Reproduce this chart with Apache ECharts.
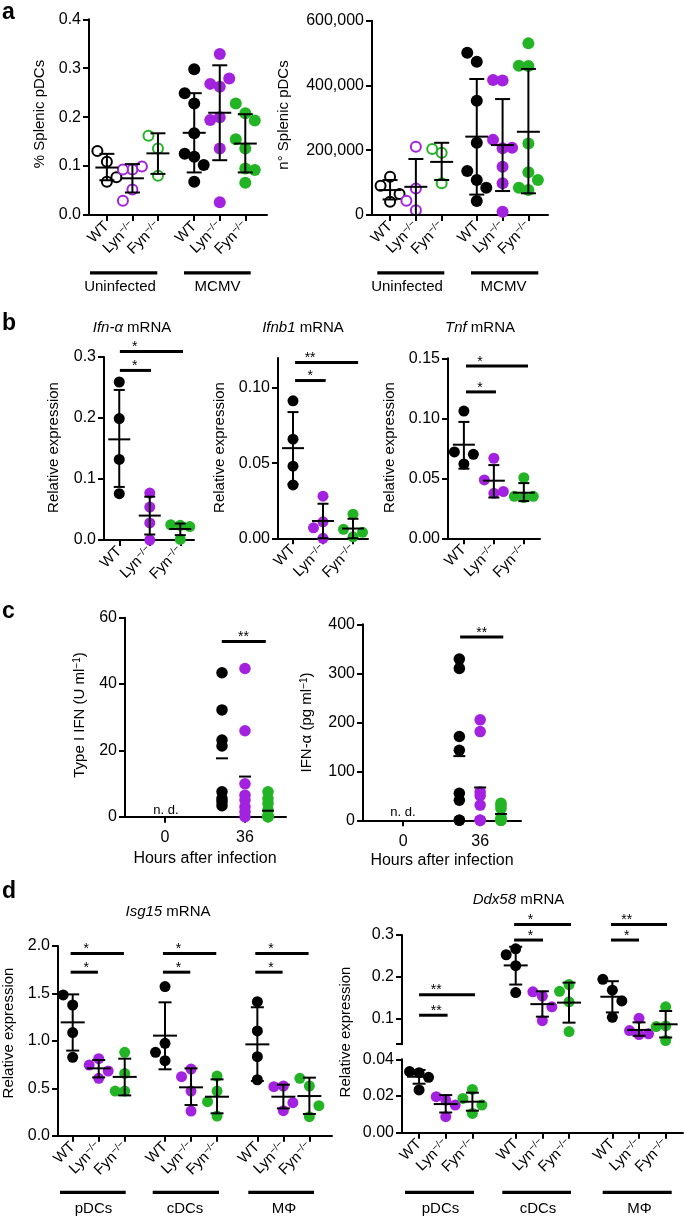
<!DOCTYPE html>
<html><head><meta charset="utf-8">
<script src="https://cdn.jsdelivr.net/npm/echarts@6/dist/echarts.min.js"></script>
<style>html,body{margin:0;padding:0;background:#fff}#c{width:685px;height:1217px}</style>
</head><body><div id="c"></div>
<script>
// ================= DATA =================
// Panel a (left): % splenic pDCs
const aPctUninfWT  = [0.109, 0.131, 0.068, 0.077];
const aPctUninfLyn = [0.093, 0.052, 0.093, 0.099, 0.029];
const aPctUninfFyn = [0.136, 0.080, 0.162];
const aPctMcmvWT   = [0.228, 0.167, 0.119, 0.068, 0.298, 0.249, 0.102, 0.125];
const aPctMcmvLyn  = [0.329, 0.262, 0.200, 0.136, 0.026, 0.268, 0.279, 0.194];
const aPctMcmvFyn  = [0.208, 0.136, 0.066, 0.228, 0.193, 0.155, 0.095, 0.092];
const aPctMean   = [0.097, 0.075, 0.126, 0.168, 0.209, 0.146];
const aPctSdLow  = [0.071, 0.046, 0.084, 0.087, 0.112, 0.087];
const aPctSdHigh = [0.125, 0.104, 0.167, 0.249, 0.306, 0.206];
// Panel a (right): number of splenic pDCs
const aNumUninfWT  = [118000, 41000, 90000, 65000];
const aNumUninfLyn = [211000, 82000, 15000, 44000];
const aNumUninfFyn = [192000, 98000, 204000];
const aNumMcmvWT   = [473000, 353000, 223000, 108000, 43000, 136000, 84000, 501000];
const aNumMcmvLyn  = [415000, 206000, 98000, 10000, 417000, 208000, 232000, 149000];
const aNumMcmvFyn  = [530000, 460000, 221000, 77000, 461000, 108000, 132000, 84000];
const aNumMean   = [77000, 87000, 164000, 242000, 216000, 257000];
const aNumSdLow  = [48000, 0, 108000, 63000, 74000, 67000];
const aNumSdHigh = [108000, 173000, 223000, 420000, 358000, 451000];
// Panel b
const bIfnaWT  = [0.259, 0.199, 0.132, 0.076];
const bIfnaLyn = [0.054, 0.000, 0.077, 0.028];
const bIfnaFyn = [0.024, 0.001, 0.025, 0.022];
const bIfnaMean = [0.165, 0.040, 0.018], bIfnaSdLow = [0.087, 0.009, 0.008], bIfnaSdHigh = [0.246, 0.071, 0.027];
const bIfnb1WT  = [0.0915, 0.066, 0.048, 0.0355];
const bIfnb1Lyn = [0.028, 0.000, 0.011, 0.007];
const bIfnb1Fyn = [0.016, 0.001, 0.006, 0.004];
const bIfnb1Mean = [0.060, 0.0115, 0.0065], bIfnb1SdLow = [0.036, 0.0, 0.0], bIfnb1SdHigh = [0.084, 0.023, 0.013];
const bTnfWT  = [0.106, 0.062, 0.072, 0.070];
const bTnfLyn = [0.0667, 0.0375, 0.0486, 0.039];
const bTnfFyn = [0.0505, 0.034, 0.035, 0.035];
const bTnfMean = [0.078, 0.048, 0.038], bTnfSdLow = [0.058, 0.034, 0.031], bTnfSdHigh = [0.097, 0.061, 0.046];
// Panel c (36 h after infection; 0 h not detected)
const cHourLabels = ['0', '36'];
const cIfnWT  = [43.4, 32.2, 23.1, 21.3, 7.5, 5.5, 4.5, 3.3];
const cIfnLyn = [44.7, 25.9, 9.9, 6.5, 5.0, 3.0, 1.5, 0];
const cIfnFyn = [7.5, 5.5, 4.0, 2.0, 0.5, 0, 0, 0];
const cIfnMean = [17.6, 12.1, 1.8];
const cIfnaWT  = [329, 310, 171, 143, 55, 41, 0, 0];
const cIfnaLyn = [205, 181, 58, 50, 31, 0, 0, 0];
const cIfnaFyn = [35, 30, 24, 5, 0, 0, 0, 0];
const cIfnaMean = [131, 67, 13];
// Panel d (left): Isg15
const cellTypes = ['pDCs', 'cDCs', 'MΦ'];
const dIsgPdcWT  = [1.378, 1.087, 0.826, 1.484];
const dIsgPdcLyn = [0.812, 0.605, 0.745, 0.682];
const dIsgPdcFyn = [0.879, 0.657, 0.471, 0.471];
const dIsgCdcWT  = [1.572, 0.974, 0.791, 0.879];
const dIsgCdcLyn = [0.703, 0.471, 0.260, 0.622];
const dIsgCdcFyn = [0.471, 0.207, 0.629, 0.359];
const dIsgMacWT  = [1.413, 1.104, 0.833, 0.590];
const dIsgMacLyn = [0.524, 0.264, 0.517, 0.348];
const dIsgMacFyn = [0.524, 0.200, 0.605, 0.316];
const dIsgMean   = [1.195, 0.710, 0.620, 1.055, 0.510, 0.411, 0.963, 0.411, 0.418];
const dIsgSdLow  = [0.897, 0.615, 0.425, 0.700, 0.323, 0.236, 0.577, 0.288, 0.229];
const dIsgSdHigh = [1.490, 0.798, 0.812, 1.406, 0.710, 0.594, 1.354, 0.538, 0.612];
// Panel d (right): Ddx58 (broken axis)
const dDdxPdcWT  = [0.0233, 0.0327, 0.0333, 0.0302];
const dDdxPdcLyn = [0.0178, 0.0087, 0.0196, 0.0151];
const dDdxPdcFyn = [0.0236, 0.0105, 0.0187, 0.0151];
const dDdxCdcWT  = [0.227, 0.163, 0.253, 0.267];
const dDdxCdcLyn = [0.1543, 0.096, 0.1646, 0.129];
const dDdxCdcFyn = [0.141, 0.070, 0.166, 0.182];
const dDdxMacWT  = [0.1685, 0.104, 0.1945, 0.143];
const dDdxMacLyn = [0.1016, 0.063, 0.0724, 0.0646];
const dDdxMacFyn = [0.129, 0.0488, 0.0835, 0.082];
const dDdxMean   = [0.0305, 0.0156, 0.0169, 0.2276, 0.1354, 0.139, 0.153, 0.074, 0.0874];
const dDdxSdLow  = [0.0267, 0.011, 0.012, 0.182, 0.1055, 0.0913, 0.1157, 0.060, 0.056];
const dDdxSdHigh = [0.0342, 0.0205, 0.0218, 0.272, 0.166, 0.1866, 0.190, 0.092, 0.119];

// ================= LAYOUT / STYLE =================
const FONT = '"Liberation Sans", Arial, Helvetica, sans-serif';
const BLK = '#000000', PUR = '#a322e0', GRN = '#22b424';
const STEP = 9.5, DMIN = 14;
const GRIDS = [
  {left:89,  top:19.3,  width:178, height:195.7, x:[-0.7, 6.27],  y:[0, 0.4]},     // 0 a1
  {left:372, top:20.7,  width:176, height:194.3, x:[-0.7, 6.12],  y:[0, 600000]},  // 1 a2
  {left:104, top:357,   width:90,  height:183,   x:[-0.5, 2.45],  y:[0, 0.3]},     // 2 b1
  {left:278, top:358,   width:90,  height:180.3, x:[-0.5, 2.5],   y:[0, 0.12]},    // 3 b2
  {left:448, top:358.3, width:92,  height:180,   x:[-0.53, 2.54], y:[0, 0.15]},    // 4 b3
  {left:125, top:617.7, width:161, height:199,   x:[-0.5, 1.5125],y:[0, 60]},      // 5 c1
  {left:363, top:624.3, width:158, height:196,   x:[-0.52, 1.53], y:[0, 400]},     // 6 c2
  {left:58,  top:946,   width:274, height:189.7, x:[-0.565, 9.97],y:[0, 2]},       // 7 d1
  {left:402, top:935,   width:281, height:109.2, x:[-0.64, 9.9],  y:[0.04, 0.3]},  // 8 d2 top
  {left:402, top:1059.3,width:281, height:73.4,  x:[-0.64, 9.9],  y:[0, 0.04]}     // 9 d2 bottom
];
const pxX = g => g.width / (g.x[1] - g.x[0]);
const pxY = g => g.height / (g.y[1] - g.y[0]);
const posA1 = [0, 1, 2, 3.42, 4.42, 5.42];
const posA2 = [0, 1, 2, 3.36, 4.36, 5.36];
const posB = [0, 1, 2];
const posD1 = [0, 1, 2, 3.55, 4.55, 5.55, 7.1, 8.1, 9.1];
const posD2 = [0, 1, 2, 3.625, 4.625, 5.625, 7.25, 8.25, 9.25];
const posC1 = [1 - 0.2875, 1, 1 + 0.2875];
const posC2 = [1 - 0.27, 1, 1 + 0.27];
const COL3 = [BLK, PUR, GRN];

// beeswarm placement: offsets (px) computed from the values
function swarm(vals, ppy) {
  const slots = {}; let k = 0;
  return vals.map(v => {
    const y = v * ppy;
    const free = s => !(slots[s] || []).some(p => Math.abs(p - y) < DMIN);
    let slot = 0;
    if (!free(0)) {
      let found = false;
      for (let l = 1; l <= 4 && !found; l++) {
        const order = (k % 2 === 0) ? [-l, l] : [l, -l];
        for (const s of order) { if (free(s)) { slot = s; found = true; break; } }
      }
      k++;
    }
    (slots[slot] = slots[slot] || []).push(y);
    return slot * STEP;
  });
}

function dots(gi, pos, groups, colors, opens, size, noSwarm) {
  const g = GRIDS[gi];
  return groups.map((vals, i) => {
    const offs = noSwarm ? vals.map(() => 0) : swarm(vals, pxY(g));
    const open = opens && opens[i];
    return {
      type: 'scatter', xAxisIndex: gi, yAxisIndex: gi, symbol: 'circle',
      symbolSize: open ? size - 2 : size, clip: false, silent: true, z: 2,
      emphasis: {disabled: true},
      itemStyle: open ? {color: '#ffffff', borderColor: colors[i], borderWidth: 2, opacity: 1}
                      : {color: colors[i], opacity: 1},
      data: vals.map((v, j) => [pos[i] + offs[j] / pxX(g), v])
    };
  });
}

function errBars(gi, pos, mean, lo, hi, mh, ch) {
  return {
    type: 'custom', xAxisIndex: gi, yAxisIndex: gi, z: 5, silent: true, clip: false,
    data: mean.map((m, i) => [pos[i], m, lo ? lo[i] : m, hi ? hi[i] : m]),
    renderItem: (p, api) => {
      const x = api.value(0);
      const pm = api.coord([x, api.value(1)]);
      const pl = api.coord([x, api.value(2)]);
      const ph = api.coord([x, api.value(3)]);
      const st = {stroke: '#000', lineWidth: 2};
      const c = [{type: 'line', shape: {x1: pm[0] - mh, y1: pm[1], x2: pm[0] + mh, y2: pm[1]}, style: st}];
      if (lo) {
        c.push({type: 'line', shape: {x1: pm[0], y1: pl[1], x2: pm[0], y2: ph[1]}, style: st});
        c.push({type: 'line', shape: {x1: pm[0] - ch, y1: pl[1], x2: pm[0] + ch, y2: pl[1]}, style: st});
        c.push({type: 'line', shape: {x1: pm[0] - ch, y1: ph[1], x2: pm[0] + ch, y2: ph[1]}, style: st});
      }
      return {type: 'group', children: c};
    }
  };
}

function sigBars(gi, sigs) {
  return {
    type: 'custom', xAxisIndex: gi, yAxisIndex: gi, z: 6, silent: true, clip: false,
    data: sigs.map(s => [s.x1, s.y]),
    renderItem: (p, api) => {
      const s = sigs[p.dataIndex];
      const a = api.coord([s.x1, s.y]), b = api.coord([s.x2, s.y]), t = api.coord([s.tx, s.y]);
      return {type: 'group', children: [
        {type: 'line', shape: {x1: a[0], y1: a[1], x2: b[0], y2: b[1]}, style: {stroke: '#000', lineWidth: 3}},
        {type: 'text', x: t[0], y: a[1] - 4, style: {text: s.t, fill: '#000', fontSize: 14, fontFamily: FONT, align: 'center', verticalAlign: 'middle'}}
      ]};
    }
  };
}

// significance annotations (bar extents in axis units)
const sigB1 = [{x1:0.02, x2:1.04, y:0.278, tx:0.51, t:'*'}, {x1:0.02, x2:2.09, y:0.309, tx:0.51, t:'*'}];
const sigB2 = [{x1:0.07, x2:1.09, y:0.105, tx:0.57, t:'*'}, {x1:0.07, x2:2.17, y:0.117, tx:0.57, t:'**'}];
const sigB3 = [{x1:0.07, x2:1.07, y:0.122, tx:0.54, t:'*'}, {x1:0.07, x2:2.14, y:0.1436, tx:0.54, t:'*'}];
const sigC1 = [{x1:0.71, x2:1.26, y:52.8, tx:0.98, t:'**'}];
const sigC2 = [{x1:0.74, x2:1.30, y:374, tx:1.02, t:'**'}];
const sigD1 = [];
[0, 3.55, 7.1].forEach(b => {
  sigD1.push({x1:b - 0.08, x2:b + 0.97, y:1.724, tx:b + 0.52, t:'*'});
  sigD1.push({x1:b - 0.08, x2:b + 1.97, y:1.92, tx:b + 0.52, t:'*'});
});
const sigD2 = [
  {x1:0, x2:1.07, y:0.109, tx:0.64, t:'**'}, {x1:0, x2:2.1, y:0.158, tx:0.64, t:'**'},
  {x1:3.565, x2:4.65, y:0.288, tx:4.18, t:'*'}, {x1:3.565, x2:5.7, y:0.325, tx:4.18, t:'*'},
  {x1:7.2, x2:8.25, y:0.288, tx:7.79, t:'*'}, {x1:7.2, x2:9.3, y:0.325, tx:7.79, t:'**'}
];

// ================= AXES =================
const RICH = {
  n: {fontSize: 15, fontFamily: FONT, color: '#000', lineHeight: 16},
  s: {fontSize: 10, fontFamily: FONT, color: '#000', verticalAlign: 'top', lineHeight: 10}
};
function catFmt(pos) {
  const names = ['{n|WT}', '{n|Lyn}{s|−/−}', '{n|Fyn}{s|−/−}'];
  return v => {
    let bi = 0, bd = 1e9;
    pos.forEach((p, i) => { const d = Math.abs(p - v); if (d < bd) { bd = d; bi = i; } });
    return names[bi % 3];
  };
}
function xAx(gi, c) {
  const g = GRIDS[gi];
  return {
    type: 'value', gridIndex: gi, min: g.x[0], max: g.x[1], show: c.show !== false,
    axisLine: {show: true, onZero: false, lineStyle: {color: '#000', width: 2}},
    axisTick: {show: true, length: 6, customValues: c.ticks, lineStyle: {color: '#000', width: 2}},
    axisLabel: {show: true, customValues: c.ticks, formatter: c.fmt, rotate: c.rotate || 0,
      margin: c.margin || 9, color: '#000', fontSize: c.size || 15, fontFamily: FONT, rich: RICH},
    splitLine: {show: false}
  };
}
function yAx(gi, labels, ticks, fmt) {
  const g = GRIDS[gi];
  return {
    type: 'value', gridIndex: gi, min: g.y[0], max: g.y[1],
    axisLine: {show: true, onZero: false, lineStyle: {color: '#000', width: 2}},
    axisTick: {show: true, length: 6, customValues: ticks, lineStyle: {color: '#000', width: 2}},
    axisLabel: {show: true, customValues: labels, formatter: fmt, margin: 8, color: '#000', fontSize: 16, fontFamily: FONT},
    splitLine: {show: false}
  };
}
const f1 = v => v.toFixed(1), f2 = v => v.toFixed(2), f0 = v => String(Math.round(v));
const fc = v => Math.round(v).toLocaleString('en-US');
const hourFmt = v => cHourLabels[Math.round(v)];

const xAxes = [
  xAx(0, {ticks: posA1, fmt: catFmt(posA1), rotate: 45}),
  xAx(1, {ticks: posA2, fmt: catFmt(posA2), rotate: 45}),
  xAx(2, {ticks: posB, fmt: catFmt(posB), rotate: 45}),
  xAx(3, {ticks: posB, fmt: catFmt(posB), rotate: 45}),
  xAx(4, {ticks: posB, fmt: catFmt(posB), rotate: 45}),
  xAx(5, {ticks: [0, 1], fmt: hourFmt, margin: 13, size: 16}),
  xAx(6, {ticks: [0, 1], fmt: hourFmt, margin: 13, size: 16}),
  xAx(7, {ticks: posD1, fmt: catFmt(posD1), rotate: 45}),
  xAx(8, {ticks: posD2, fmt: catFmt(posD2), show: false}),
  xAx(9, {ticks: posD2, fmt: catFmt(posD2), rotate: 45})
];
const yAxes = [
  yAx(0, [0, 0.1, 0.2, 0.3, 0.4], [0, 0.1, 0.2, 0.3, 0.4], f1),
  yAx(1, [0, 200000, 400000, 600000], [0, 200000, 400000, 600000], fc),
  yAx(2, [0, 0.1, 0.2, 0.3], [0, 0.1, 0.2, 0.3], f1),
  yAx(3, [0, 0.05, 0.1], [0, 0.05, 0.1], f2),
  yAx(4, [0, 0.05, 0.1, 0.15], [0, 0.05, 0.1, 0.15], f2),
  yAx(5, [0, 20, 40, 60], [0, 20, 40, 60], f0),
  yAx(6, [0, 100, 200, 300, 400], [0, 100, 200, 300, 400], f0),
  yAx(7, [0, 0.5, 1, 1.5, 2], [0, 0.5, 1, 1.5, 2], f1),
  yAx(8, [0.1, 0.2, 0.3], [0.04, 0.1, 0.2, 0.3], f1),
  yAx(9, [0, 0.02, 0.04], [0, 0.02, 0.04], f2)
];

// ================= SERIES =================
const C6 = [BLK, PUR, GRN, BLK, PUR, GRN];
const OPEN6 = [1, 1, 1, 0, 0, 0];
const C9 = [BLK, PUR, GRN, BLK, PUR, GRN, BLK, PUR, GRN];
const series = [].concat(
  dots(0, posA1, [aPctUninfWT, aPctUninfLyn, aPctUninfFyn, aPctMcmvWT, aPctMcmvLyn, aPctMcmvFyn], C6, OPEN6, 12),
  errBars(0, posA1, aPctMean, aPctSdLow, aPctSdHigh, 11.5, 7.5),
  dots(1, posA2, [aNumUninfWT, aNumUninfLyn, aNumUninfFyn, aNumMcmvWT, aNumMcmvLyn, aNumMcmvFyn], C6, OPEN6, 12),
  errBars(1, posA2, aNumMean, aNumSdLow, aNumSdHigh, 11.5, 7.5),
  dots(2, posB, [bIfnaWT, bIfnaLyn, bIfnaFyn], COL3, null, 11),
  errBars(2, posB, bIfnaMean, bIfnaSdLow, bIfnaSdHigh, 11, 5.5),
  sigBars(2, sigB1),
  dots(3, posB, [bIfnb1WT, bIfnb1Lyn, bIfnb1Fyn], COL3, null, 11),
  errBars(3, posB, bIfnb1Mean, bIfnb1SdLow, bIfnb1SdHigh, 11, 5.5),
  sigBars(3, sigB2),
  dots(4, posB, [bTnfWT, bTnfLyn, bTnfFyn], COL3, null, 11),
  errBars(4, posB, bTnfMean, bTnfSdLow, bTnfSdHigh, 11, 5.5),
  sigBars(4, sigB3),
  dots(5, posC1, [cIfnWT, cIfnLyn, cIfnFyn], COL3, null, 11.5, true),
  errBars(5, posC1, cIfnMean, null, null, 6, 0),
  sigBars(5, sigC1),
  dots(6, posC2, [cIfnaWT, cIfnaLyn, cIfnaFyn], COL3, null, 11.5, true),
  errBars(6, posC2, cIfnaMean, null, null, 6, 0),
  sigBars(6, sigC2),
  dots(7, posD1, [dIsgPdcWT, dIsgPdcLyn, dIsgPdcFyn, dIsgCdcWT, dIsgCdcLyn, dIsgCdcFyn, dIsgMacWT, dIsgMacLyn, dIsgMacFyn], C9, null, 11),
  errBars(7, posD1, dIsgMean, dIsgSdLow, dIsgSdHigh, 12, 6.5),
  sigBars(7, sigD1),
  dots(9, posD2.slice(0, 3), [dDdxPdcWT, dDdxPdcLyn, dDdxPdcFyn], COL3, null, 11),
  errBars(9, posD2.slice(0, 3), dDdxMean.slice(0, 3), dDdxSdLow.slice(0, 3), dDdxSdHigh.slice(0, 3), 12, 6.5),
  dots(8, posD2.slice(3), [dDdxCdcWT, dDdxCdcLyn, dDdxCdcFyn, dDdxMacWT, dDdxMacLyn, dDdxMacFyn], C9.slice(3), null, 11),
  errBars(8, posD2.slice(3), dDdxMean.slice(3), dDdxSdLow.slice(3), dDdxSdHigh.slice(3), 12, 6.5),
  sigBars(8, sigD2)
);

// ================= TEXT / DECORATION =================
const SUPR = {s: {fontSize: 10, fontFamily: FONT, fill: '#000', verticalAlign: 'top', lineHeight: 10},
              i: {fontSize: 15, fontFamily: FONT, fill: '#000', fontStyle: 'italic'}};
function T(x, y, text, o) {
  o = o || {};
  return {type: 'text', x: x, y: y, rotation: o.rot || 0, silent: true, z: 10,
    style: {text: text, fill: '#000', fontSize: o.size || 15, fontFamily: FONT, fontWeight: o.weight || 'normal',
      align: o.align || 'center', verticalAlign: 'middle', rich: SUPR}};
}
function U(x1, x2, y) {
  return {type: 'rect', silent: true, z: 10, shape: {x: x1, y: y - 1.6, width: x2 - x1, height: 3.2}, style: {fill: '#000'}};
}
const R90 = Math.PI / 2;
const graphics = [
  T(2, 12.7, 'a', {size: 23, weight: 'bold', align: 'left'}),
  T(2, 323.7, 'b', {size: 23, weight: 'bold', align: 'left'}),
  T(2, 611.3, 'c', {size: 23, weight: 'bold', align: 'left'}),
  T(2, 892, 'd', {size: 23, weight: 'bold', align: 'left'}),
  T(40, 114, '% Splenic pDCs', {rot: R90}),
  T(283.5, 115, 'n° Splenic pDCs', {rot: R90}),
  U(90, 157.3, 272.8), U(184, 250.7, 272.8), U(377.3, 444.3, 272.8), U(471, 538.3, 272.8),
  T(120, 287, 'Uninfected'), T(217.5, 287, 'MCMV'), T(407, 287, 'Uninfected'), T(503.5, 287, 'MCMV'),
  T(132, 327.5, '{i|Ifn-α} mRNA'), T(303, 328, '{i|Ifnb1} mRNA'), T(480, 327.5, '{i|Tnf} mRNA'),
  T(53.5, 447.5, 'Relative expression', {rot: R90}),
  T(220, 447.5, 'Relative expression', {rot: R90}),
  T(390, 447.5, 'Relative expression', {rot: R90}),
  T(79.5, 715, 'Type I IFN (U ml{s|−1})', {rot: R90}),
  T(306.5, 722.5, 'IFN-α (pg ml{s|−1})', {rot: R90}),
  T(166, 810, 'n. d.', {size: 13}), T(403, 812, 'n. d.', {size: 13}),
  T(205, 858.5, 'Hours after infection', {size: 16}), T(442, 860.5, 'Hours after infection', {size: 16}),
  T(168, 911.7, '{i|Isg15} mRNA'), T(518.5, 899.5, '{i|Ddx58} mRNA'),
  T(8.5, 1033, 'Relative expression', {rot: R90}),
  T(346, 1032, 'Relative expression', {rot: R90}),
  U(60, 125.7, 1192.3), U(152.7, 219, 1192.3), U(248.3, 314, 1192.3),
  U(405, 474, 1192.3), U(502.3, 571, 1192.3), U(602.7, 671.7, 1192.3),
  T(93.5, 1209, cellTypes[0]), T(185, 1209, cellTypes[1]), T(284, 1209, cellTypes[2]),
  T(440.5, 1209, cellTypes[0]), T(538, 1209, cellTypes[1]), T(639.5, 1209, cellTypes[2])
];

const chart = echarts.init(document.getElementById('c'), null, {renderer: 'canvas', width: 685, height: 1217});
chart.setOption({
  animation: false,
  backgroundColor: '#ffffff',
  textStyle: {fontFamily: FONT},
  grid: GRIDS.map(g => ({left: g.left, top: g.top, width: g.width, height: g.height, containLabel: false, outerBoundsMode: 'none'})),
  xAxis: xAxes,
  yAxis: yAxes,
  series: series,
  graphic: {elements: graphics}
});
</script>
</body></html>
